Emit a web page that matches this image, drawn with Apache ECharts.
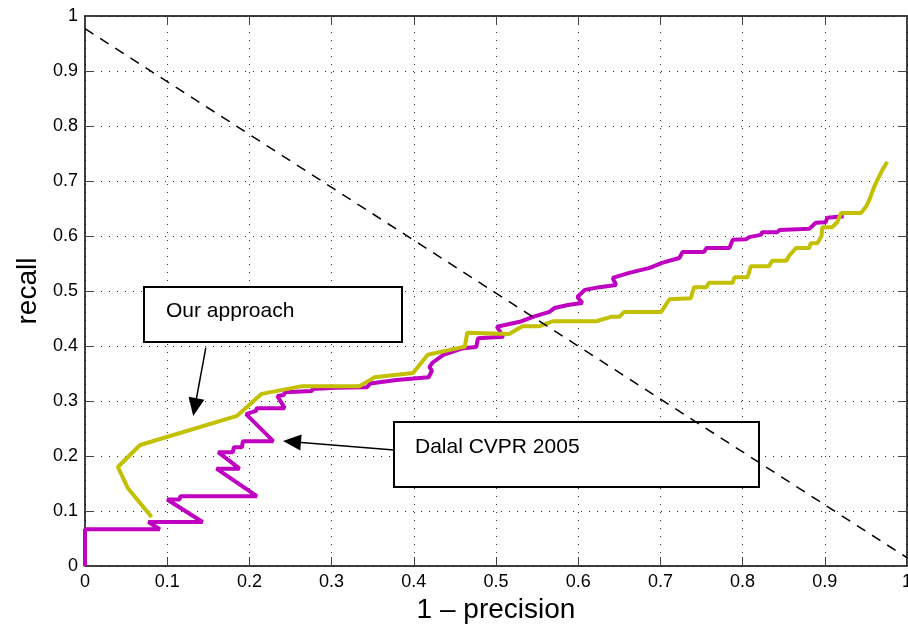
<!DOCTYPE html>
<html lang="en">
<head>
<meta charset="UTF-8">
<title>recall vs 1 - precision</title>
<script src="https://cdn.jsdelivr.net/npm/echarts@6/dist/echarts.min.js"></script>
<style>
  body { margin: 0; background: #fff; }
  #chart { width: 908px; height: 626px; }
</style>
</head>
<body>
<div id="chart"></div>
<script>
    // "Our approach" curve (x = 1 - precision, y = recall)
    var oursX = [0.081, 0.052, 0.040, 0.067, 0.185, 0.215, 0.264, 0.334, 0.352, 0.399, 0.417, 0.459, 0.462, 0.465,
        0.516, 0.532, 0.553, 0.569, 0.622, 0.640, 0.650, 0.656, 0.701, 0.711, 0.737, 0.741, 0.756, 0.759, 0.788,
        0.790, 0.806, 0.810, 0.832, 0.836, 0.853, 0.857, 0.865, 0.881, 0.883, 0.891, 0.896, 0.897, 0.909, 0.915,
        0.920, 0.944, 0.950, 0.954, 0.960, 0.964, 0.970, 0.976];
    var oursY = [0.089, 0.142, 0.180, 0.220, 0.273, 0.313, 0.327, 0.327, 0.343, 0.351, 0.384, 0.398, 0.398, 0.424,
        0.422, 0.436, 0.436, 0.445, 0.445, 0.453, 0.453, 0.462, 0.462, 0.485, 0.487, 0.507, 0.507, 0.515, 0.515,
        0.525, 0.525, 0.545, 0.545, 0.555, 0.555, 0.565, 0.578, 0.578, 0.587, 0.587, 0.600, 0.616, 0.616, 0.625,
        0.642, 0.642, 0.653, 0.665, 0.689, 0.702, 0.720, 0.735];

    // "Dalal CVPR 2005" curve
    var dalalX = [0, 0, 0.091, 0.077, 0.143, 0.100, 0.115, 0.116, 0.209, 0.160, 0.188, 0.162, 0.180, 0.181, 0.191,
        0.192, 0.229, 0.196, 0.208, 0.209, 0.243, 0.234, 0.242, 0.243, 0.276, 0.277, 0.304, 0.343, 0.347, 0.379,
        0.381, 0.418, 0.422, 0.419, 0.423, 0.436, 0.460, 0.476, 0.478, 0.509, 0.501, 0.529, 0.545, 0.565, 0.571,
        0.589, 0.605, 0.599, 0.608, 0.626, 0.646, 0.642, 0.662, 0.687, 0.702, 0.723, 0.727, 0.753, 0.756, 0.784,
        0.788, 0.804, 0.808, 0.822, 0.824, 0.842, 0.845, 0.881, 0.889, 0.901, 0.903, 0.923];
    var dalalY = [0, 0.067, 0.067, 0.080, 0.080, 0.121, 0.121, 0.127, 0.127, 0.177, 0.177, 0.207, 0.207, 0.216, 0.216,
        0.227, 0.227, 0.276, 0.282, 0.287, 0.287, 0.309, 0.311, 0.316, 0.318, 0.322, 0.324, 0.325, 0.332, 0.338,
        0.340, 0.343, 0.355, 0.362, 0.370, 0.384, 0.396, 0.398, 0.414, 0.417, 0.435, 0.444, 0.453, 0.462, 0.469,
        0.475, 0.478, 0.489, 0.502, 0.507, 0.511, 0.524, 0.533, 0.542, 0.551, 0.560, 0.571, 0.571, 0.578, 0.578,
        0.593, 0.594, 0.598, 0.602, 0.607, 0.607, 0.611, 0.613, 0.624, 0.625, 0.633, 0.636];

    // dashed reference line
    var diagX = [0, 1];
    var diagY = [0.977, 0.015];

    var tickLabels = ['0', '0.1', '0.2', '0.3', '0.4', '0.5', '0.6', '0.7', '0.8', '0.9', '1'];

    // arrows: [from, to] in data coords
    var arrowOurs = [[0.147, 0.397], [0.1336, 0.289]];
    var arrowDalal = [[0.376, 0.211], [0.2518, 0.226]];
    var noteOurs = 'Our approach';
    var noteDalal = 'Dalal CVPR 2005';

    function pairs(xs, ys) {
        var out = [];
        for (var i = 0; i < xs.length; i++) {
            out.push([xs[i], ys[i]]);
        }
        return out;
    }

    var font = '"Liberation Sans", Arial, Helvetica, sans-serif';

    function valAxis(extra) {
        var ax = {
            type: 'value',
            min: 0,
            max: 1,
            interval: 0.1,
            axisLine: {show: true, onZero: false, lineStyle: {color: '#000', width: 1.5}},
            axisTick: {show: true, inside: true, length: 9, lineStyle: {color: '#444', width: 1}},
            axisLabel: {
                show: true,
                color: '#000',
                fontSize: 18,
                fontFamily: font,
                formatter: function (v) { return tickLabels[Math.round(v * 10)]; }
            },
            splitLine: {show: false}
        };
        for (var k in extra) ax[k] = extra[k];
        return ax;
    }

    var ct = echarts.init(document.getElementById('chart'));
    var option = {
        animation: false,
        backgroundColor: '#fff',
        grid: {left: 85, right: 1, top: 16, bottom: 60, containLabel: false, outerBoundsMode: 'none'},
        xAxis: [
            valAxis({
                position: 'bottom',
                name: '1 \u2013 precision',
                nameLocation: 'middle',
                nameGap: 28,
                nameTextStyle: {fontSize: 28, fontFamily: font, color: '#000'},
                axisLabel: {
                    show: true, color: '#000', fontSize: 18, fontFamily: font, margin: 7,
                    formatter: function (v) { return tickLabels[Math.round(v * 10)]; }
                },
                splitLine: {show: true, lineStyle: {color: '#333', width: 1, type: [1, 7]}}
            }),
            valAxis({position: 'top', axisLabel: {show: false}})
        ],
        yAxis: [
            valAxis({
                position: 'left',
                name: 'recall',
                nameLocation: 'middle',
                nameGap: 42,
                nameTextStyle: {fontSize: 28, fontFamily: font, color: '#000'},
                axisLabel: {
                    show: true, color: '#000', fontSize: 18, fontFamily: font, margin: 7,
                    formatter: function (v) { return tickLabels[Math.round(v * 10)]; }
                },
                splitLine: {show: true, lineStyle: {color: '#333', width: 1, type: [1, 7]}}
            }),
            valAxis({position: 'right', axisLabel: {show: false}})
        ],
        graphic: [
            {
                type: 'rect', z: 1,
                shape: {x: 144, y: 287, width: 258, height: 55},
                style: {fill: '#fff', stroke: '#000', lineWidth: 2}
            },
            {
                type: 'text', z: 1, x: 166, y: 311,
                style: {text: noteOurs, font: '21px ' + font, fill: '#000', verticalAlign: 'middle'}
            },
            {
                type: 'rect', z: 1,
                shape: {x: 394, y: 422, width: 365, height: 65},
                style: {fill: '#fff', stroke: '#000', lineWidth: 2}
            },
            {
                type: 'text', z: 1, x: 415, y: 447,
                style: {text: noteDalal, font: '21px ' + font, fill: '#000', verticalAlign: 'middle'}
            }
        ],
        series: [
            {
                name: noteDalal,
                type: 'line',
                data: pairs(dalalX, dalalY),
                showSymbol: false,
                lineStyle: {color: '#C000C0', width: 4},
                z: 3
            },
            {
                name: noteOurs,
                type: 'line',
                data: pairs(oursX, oursY),
                showSymbol: false,
                lineStyle: {color: '#C2C000', width: 4},
                z: 4
            },
            {
                name: 'diag',
                type: 'line',
                data: pairs(diagX, diagY),
                showSymbol: false,
                lineStyle: {color: '#000', width: 1.5, type: [10, 8]},
                z: 5,
                markLine: {
                    silent: true,
                    symbol: ['none', 'triangle'],
                    symbolSize: [16, 18],
                    label: {show: false},
                    lineStyle: {color: '#000', width: 1.5, type: 'solid'},
                    itemStyle: {color: '#000'},
                    data: [
                        [{coord: arrowOurs[0]}, {coord: arrowOurs[1]}],
                        [{coord: arrowDalal[0]}, {coord: arrowDalal[1]}]
                    ]
                }
            }
        ]
    };
    ct.setOption(option);
</script>
</body>
</html>
